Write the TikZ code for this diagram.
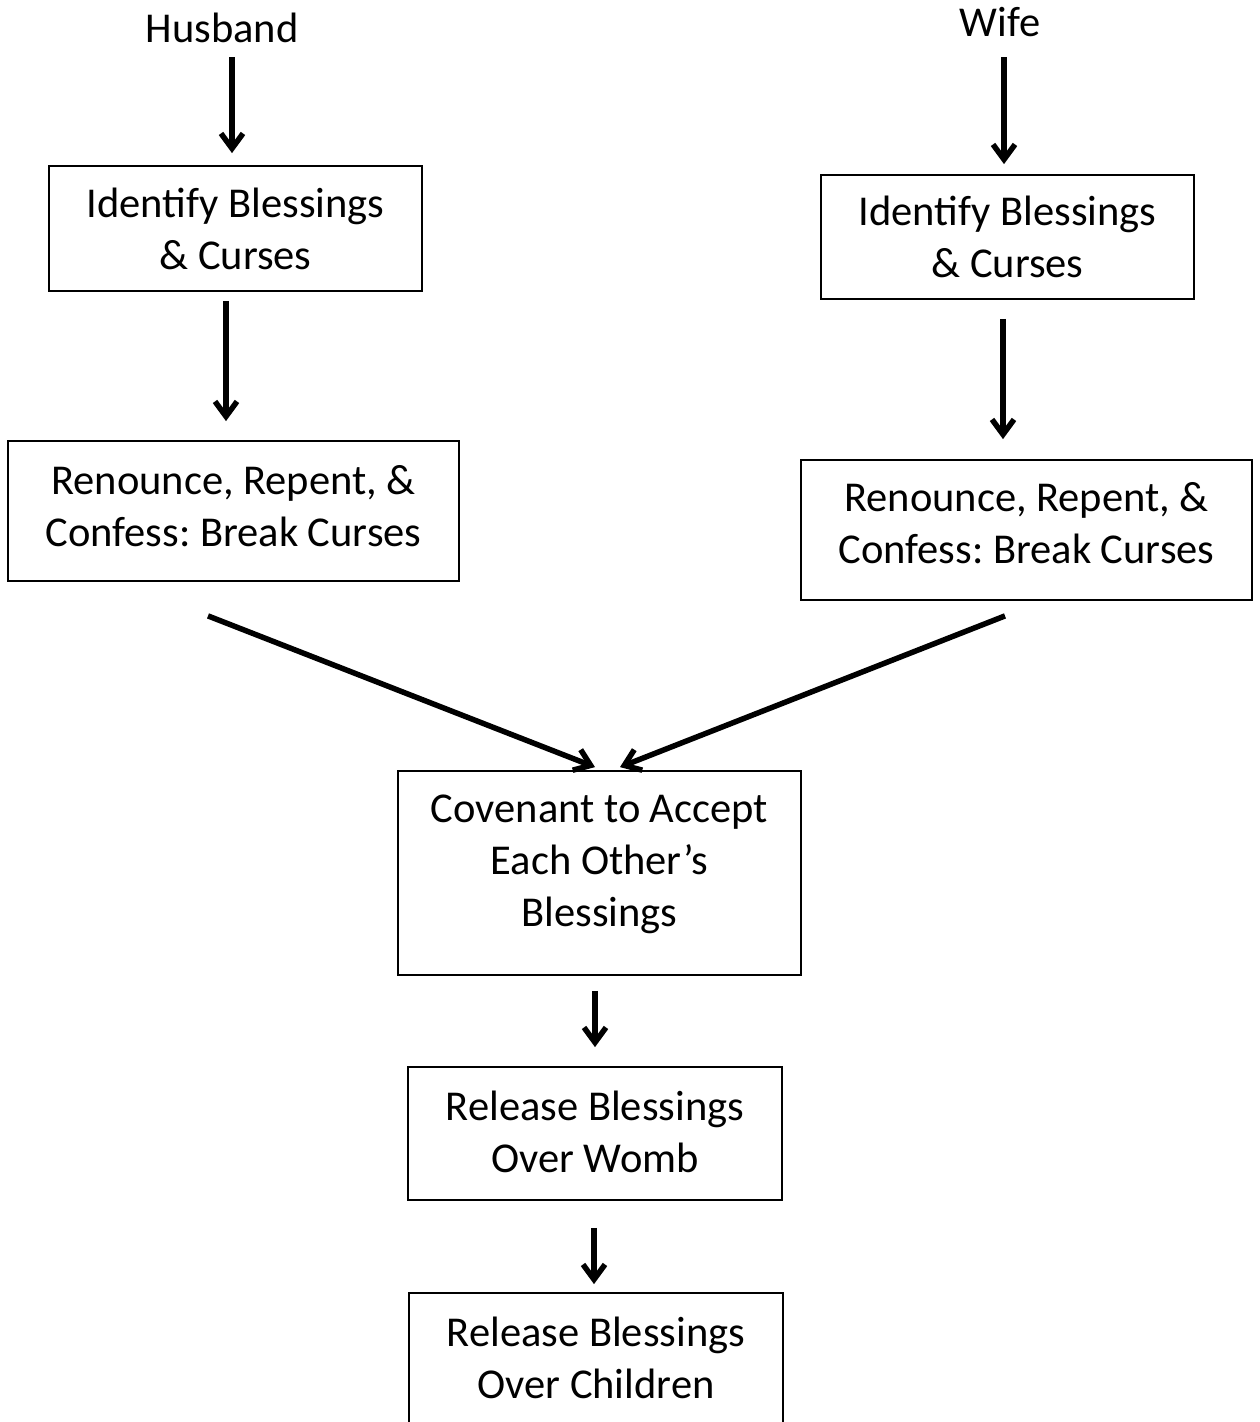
\documentclass[tikz,border=0pt]{standalone}
\usepackage{fontspec}
\setmainfont{Carlito}
\usetikzlibrary{arrows.meta}
\frenchspacing
\tikzset{
  every node/.style={font=\fontsize{42.5}{52}\selectfont},
  box/.style={draw,line width=1.8pt,align=center,inner sep=0pt},
  arr/.style={line width=5.5pt,-{Straight Barb[length=15pt,width=22pt,line width=5.5pt]}}
}
\begin{document}
\begin{tikzpicture}[x=1pt,y=-1pt]
\useasboundingbox (0,0) rectangle (1259,1422);
% two sides
\node (husband) at (222,28) {Husband};
\node (wife) at (1000,22) {Wife};
\node[box,minimum width=373,minimum height=125] (hident) at (235.5,228.5) {Identify Blessings\\\& Curses};
\node[box,minimum width=451,minimum height=140,text depth=10pt] (hrenounce) at (233.5,511) {Renounce, Repent, \&\\Confess: Break Curses};
\node[box,minimum width=373,minimum height=124] (wident) at (1007.5,237) {Identify Blessings\\\& Curses};
\node[box,minimum width=451,minimum height=140,text depth=14pt] (wrenounce) at (1026.5,530) {Renounce, Repent, \&\\Confess: Break Curses};
% joint steps
\node[box,minimum width=403,minimum height=204,text depth=24pt] (covenant) at (599.5,873) {Covenant to Accept\\Each Other’s\\Blessings};
\node[box,minimum width=374,minimum height=133,text depth=4pt] (womb) at (595,1133.5) {Release Blessings\\Over Womb};
\node[box,minimum width=374,minimum height=133,text depth=4pt] (children) at (596,1359.5) {Release Blessings\\Over Children};
\draw[arr] ([xshift=-3.5pt,yshift=-11pt]hident.north |- husband.south) -- ([xshift=-3.5pt,yshift=12pt]hident.north);
\draw[arr] ([xshift=-9.5pt,yshift=-9pt]hident.south) -- ([xshift=-7.5pt,yshift=19pt]hrenounce.north);
\draw[arr] ([xshift=-3.5pt,yshift=-11pt]wident.north |- husband.south) -- ([xshift=-3.5pt,yshift=10pt]wident.north);
\draw[arr] ([xshift=-4.5pt,yshift=-19pt]wident.south) -- ([xshift=-23.5pt,yshift=20pt]wrenounce.north);
\draw[arr] ([xshift=-25.5pt,yshift=-34pt]hrenounce.south) -- ([xshift=-4.5pt,yshift=3pt]covenant.north);
\draw[arr] ([xshift=-21.5pt,yshift=-15pt]wrenounce.south) -- ([xshift=20.5pt,yshift=3pt]covenant.north);
\draw[arr] ([xshift=-4.5pt,yshift=-15pt]covenant.south) -- ([yshift=19pt]womb.north);
\draw[arr] ([xshift=-1pt,yshift=-27pt]womb.south) -- ([xshift=-2pt,yshift=8pt]children.north);
\end{tikzpicture}
\end{document}
